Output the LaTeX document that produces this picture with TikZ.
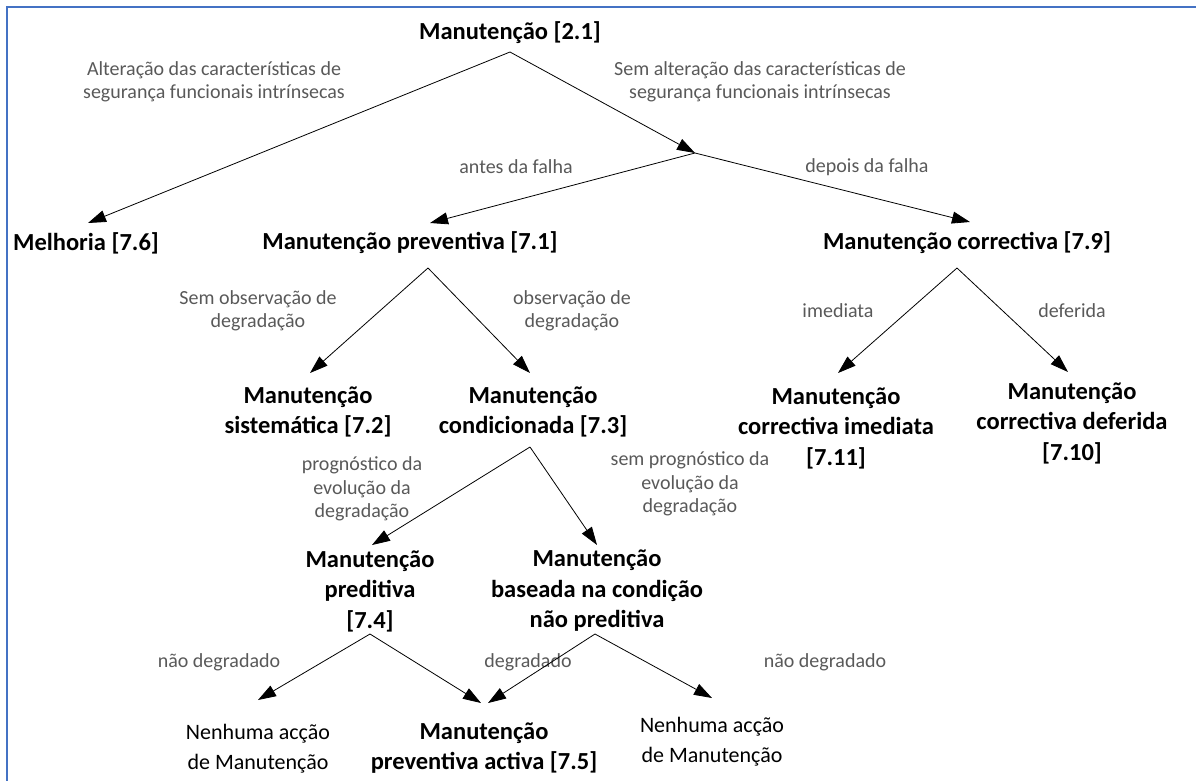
\documentclass[tikz,border=0pt]{standalone}
\usepackage{fontspec}
\setmainfont{Carlito}
\usetikzlibrary{arrows.meta,calc}
\definecolor{lblgray}{HTML}{595959}
\definecolor{frameblue}{HTML}{4472C4}

\begin{document}
\begin{tikzpicture}[x=1pt,y=-1pt,
  term/.style={font=\fontsize{24.5}{30.5}\selectfont\bfseries, align=center, inner sep=0pt},
  plainterm/.style={font=\fontsize{22}{30}\selectfont, align=center, inner sep=0pt},
  lbl/.style={font=\fontsize{20}{23.5}\selectfont, text=lblgray, align=center, inner sep=0pt},
  arr/.style={-{Triangle[length=18pt,width=12pt]}, line width=0.8pt, black}]

\useasboundingbox (0,0) rectangle (1196,780);

% frame (only its top and left edges lie inside the page)
\draw[frameblue, line width=2.6pt] (7,790) -- (7,7) -- (1200,7);

% ---- tree nodes
\node[term] (root) at (510,33) {Manutenção [2.1]};
\coordinate (junc) at (695,153);
\node[term] (melh) at (86,243) {Melhoria [7.6]};
\node[term] (prev) at (410,243) {Manutenção preventiva [7.1]};
\node[term] (corr) at (967,243) {Manutenção correctiva [7.9]};
\node[term] (sist) at (308,412) {Manutenção\\sistemática [7.2]};
\node[term] (condi) at (533,412) {Manutenção\\condicionada [7.3]};
\node[term] (imed) at (836,428) {Manutenção\\correctiva imediata\\{[7.11]}};
\node[term] (defe) at (1072,423) {Manutenção\\correctiva deferida\\{[7.10]}};
\node[term] (pred) at (370,591) {Manutenção\\preditiva\\{[7.4]}};
\node[term] (base) at (597,591) {Manutenção\\baseada na condição\\não preditiva};
\node[plainterm] (nen1) at (258,749) {Nenhuma acção\\de Manutenção};
\node[term] (activ) at (484,748) {Manutenção\\preventiva activa [7.5]};
\node[plainterm] (nen2) at (712,742) {Nenhuma acção\\de Manutenção};

% ---- branch labels
\node[lbl] (l-alt) at (214,82) {Alteração das características de\\segurança funcionais intrínsecas};
\node[lbl] (l-sem) at (760,82) {Sem alteração das características de\\segurança funcionais intrínsecas};
\node[lbl] (l-antes) at (516,167) {antes da falha};
\node[lbl] (l-depois) at (867,167) {depois da falha};
\node[lbl] (l-semobs) at (258,311) {Sem observação de\\degradação};
\node[lbl] (l-obs) at (572,311) {observação de\\degradação};
\node[lbl] (l-imed) at (838,311) {imediata};
\node[lbl] (l-defe) at (1072,311) {deferida};
\node[lbl] (l-prog) at (362,489) {prognóstico da\\evolução da\\degradação};
\node[lbl] (l-semprog) at (690,484) {sem prognóstico da\\evolução da\\degradação};
\node[lbl] (l-nd1) at (219,662) {não degradado};
\node[lbl] (l-deg) at (528,662) {degradado};
\node[lbl] (l-nd2) at (825,662) {não degradado};

% ---- connectors
\draw[arr] ($(root)+(0,19)$) -- ($(melh)+(2,-20)$);
\draw[arr] ($(root)+(0,19)$) -- (junc);
\draw[arr] (junc) -- ($(prev)+(20,-20)$);
\draw[arr] (junc) -- ($(corr)+(3,-21)$);

\draw[arr] ($(prev)+(18,25)$) -- ($(sist)+(2,-39)$);
\draw[arr] ($(prev)+(18,25)$) -- ($(condi)+(-3,-39)$);

\draw[arr] ($(corr)+(-10,25)$) -- ($(imed)+(2,-55)$);
\draw[arr] ($(corr)+(-10,25)$) -- ($(defe)+(-4,-51)$);

\draw[arr] ($(condi)+(-3,35)$) -- ($(pred)+(2,-46)$);
\draw[arr] ($(condi)+(-3,35)$) -- ($(base)+(0,-46)$);

\draw[arr] ($(pred)+(0,43)$) -- ($(nen1)+(0,-49)$);
\draw[arr] ($(pred)+(0,43)$) -- ($(activ)+(-3,-45)$);
\draw[arr] ($(base)+(-2,43)$) -- ($(activ)+(4,-45)$);
\draw[arr] ($(base)+(-2,43)$) -- ($(nen2)+(0,-44)$);
\end{tikzpicture}
\end{document}
